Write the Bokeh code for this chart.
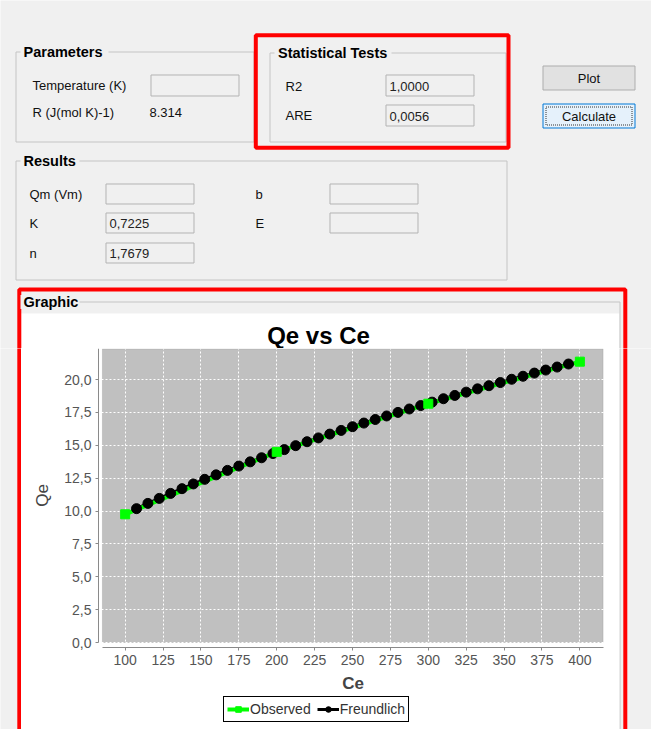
from bokeh.plotting import figure
from bokeh.layouts import column, row
from bokeh.models import (Range1d, FixedTicker, CustomJSTickFormatter, BoxAnnotation,
                          Legend, LegendItem)
from bokeh.core.properties import value
from bokeh.embed import file_html
from bokeh.resources import INLINE

# ---- isotherm data -------------------------------------------------------
ce_observed = [100, 200, 300, 400]
qe_observed = [9.75, 14.50, 18.16, 21.36]

ce_freundlich = [107.5, 115, 122.5, 130, 137.5, 145, 152.5, 160, 167.5, 175,
                 182.5, 190, 197.5, 205, 212.5, 220, 227.5, 235, 242.5, 250,
                 257.5, 265, 272.5, 280, 287.5, 295, 302.5, 310, 317.5, 325,
                 332.5, 340, 347.5, 355, 362.5, 370, 377.5, 385, 392.5]
qe_freundlich = [10.18, 10.58, 10.96, 11.34, 11.70, 12.06, 12.41, 12.75, 13.09, 13.42,
                 13.74, 14.05, 14.37, 14.67, 14.97, 15.27, 15.56, 15.85, 16.13, 16.41,
                 16.69, 16.96, 17.23, 17.50, 17.76, 18.02, 18.28, 18.54, 18.79, 19.04,
                 19.29, 19.53, 19.77, 20.02, 20.25, 20.49, 20.72, 20.95, 21.18]

ce_ticks = [100, 125, 150, 175, 200, 225, 250, 275, 300, 325, 350, 375, 400]
qe_ticks = [0, 2.5, 5, 7.5, 10, 12.5, 15, 17.5, 20]

# ---- form contents -------------------------------------------------------
group_titles = ["Parameters", "Statistical Tests", "Results", "Graphic"]
param_labels = ["Temperature (K)", "R (J(mol K)-1)"]
gas_constant = "8.314"
stat_labels = ["R2", "ARE"]
stat_values = ["1,0000", "0,0056"]
result_labels_left = ["Qm (Vm)", "K", "n"]
result_values_left = ["", "0,7225", "1,7679"]
result_labels_right = ["b", "E"]
result_values_right = ["", ""]
button_labels = ["Plot", "Calculate"]
chart_title = "Qe vs Ce"

BG = "#f0f0f0"
FONT = value("Liberation Sans")
GROUP_LINE = "#c4c4c4"
FIELD_LINE = "#b3b3b3"
RED = "#ff0000"


def canvas(x0, y0, w, h):
    """A blank drawing surface whose data units are window pixels (y downward)."""
    f = figure(width=w, height=h, x_range=Range1d(x0, x0 + w), y_range=Range1d(y0 + h, y0),
               x_axis_type=None, y_axis_type=None, output_backend="svg",
               toolbar_location=None, min_border=0, background_fill_color=BG,
               border_fill_color=BG, outline_line_color=None, frame_align=False)
    return f


def box(f, l, t, r, b, line=None, width=1, fill=None, dash="solid"):
    f.quad(left=[l], right=[r], top=[t], bottom=[b],
           fill_color=fill if fill else "white", fill_alpha=1 if fill else 0,
           line_color=line, line_alpha=1 if line else 0, line_width=width, line_dash=dash)


def graphic_frame(f):
    # group border of the chart panel and the red highlight around it
    box(f, 19.5, 301.5, 619.5, 730.5, line=GROUP_LINE)
    box(f, 18.8, 289, 624.8, 760, line=RED, width=4)


# ---- upper part of the window --------------------------------------------
head = canvas(0, 0, 651, 348)

box(head, 15.5, 51.5, 253.5, 141.5, line=GROUP_LINE)      # Parameters
box(head, 269.5, 52.5, 505.5, 141.5, line=GROUP_LINE)     # Statistical Tests
box(head, 15.5, 160.5, 506.5, 279.5, line=GROUP_LINE)     # Results
box(head, 20, 313, 619, 360, fill="white")                # top of the chart panel
graphic_frame(head)

for l, r, yc in [(20, 108, 51.5), (274, 391, 52.5), (20, 79, 160.5), (20, 79, 301.5)]:
    box(head, l, yc - 7, r, yc + 7, fill=BG)

fields = [(150, 74, 239, 96), (385, 74, 474, 96), (385, 104, 474, 126),
          (105, 183, 194, 204), (105, 212, 194, 233), (105, 242, 194, 263),
          (329, 183, 418, 204), (329, 212, 418, 233)]
for l, t, r, b in fields:
    box(head, l + 0.5, t + 0.5, r - 0.5, b - 0.5, line=FIELD_LINE, fill=BG)

box(head, 542.5, 65.5, 634.5, 89.5, line="#adadad", fill="#e1e1e1")
box(head, 542.5, 103.5, 634.5, 127.5, line="#0078d7", fill="#e5f1fb")
box(head, 545.5, 106.5, 631.5, 124.5, line="#333333", dash="1 1")

box(head, 255.3, 34.7, 508, 147.2, line=RED, width=4)

head.text(x=[23, 277.5, 23, 23], y=[51.5, 52.5, 160.5, 301.5], text=group_titles,
          text_font=FONT, text_font_size="14.5px", text_font_style="bold",
          text_color="#000000", text_baseline="middle", text_align="left")
head.text(x=[32, 32, 149, 285, 285, 29, 29, 29, 255, 255],
          y=[85, 111.5, 111.5, 86, 115, 193.5, 223, 253, 193.5, 223],
          text=param_labels + [gas_constant] + stat_labels + result_labels_left + result_labels_right,
          text_font=FONT, text_font_size="13px", text_color="#111111",
          text_baseline="middle", text_align="left")
head.text(x=[389, 389, 109, 109, 109, 333, 333],
          y=[85.5, 115.5, 194, 223, 253, 194, 223],
          text=stat_values + result_values_left + result_values_right,
          text_font=FONT, text_font_size="13px", text_color="#222222",
          text_baseline="middle", text_align="left")
head.text(x=[588.5, 588.5], y=[77.5, 115.5], text=button_labels,
          text_font=FONT, text_font_size="13px", text_color="#111111",
          text_baseline="middle", text_align="center")
head.text(x=[318], y=[334.5], text=[chart_title], text_font=FONT, text_font_size="24px",
          text_font_style="bold", text_color="#000000", text_baseline="middle",
          text_align="center")

# ---- side and bottom strips around the chart ------------------------------
left = canvas(0, 348, 21, 381)
graphic_frame(left)
right = canvas(619, 348, 32, 381)
graphic_frame(right)
bottom = canvas(0, 729, 651, 3)
graphic_frame(bottom)

# ---- chart -----------------------------------------------------------------
# The frame fills the whole white panel; the axes sit at fixed positions inside it.
X_AXIS_AT = -0.38
Y_AXIS_AT = 82.4
p = figure(width=598, height=381, x_range=Range1d(31.6, 426.15), y_range=Range1d(-6.616, 22.36),
           output_backend="svg", toolbar_location=None, frame_align=False, min_border=0,
           background_fill_color="white", border_fill_color="white", outline_line_color=None)

# data area
p.add_layout(BoxAnnotation(left=85, right=415.3, bottom=0, top=22.33, fill_color="#c0c0c0",
                           fill_alpha=1, line_color="#8a8a8a", line_width=1, level="image"))

for g in (p.xgrid, p.ygrid):
    g.grid_line_color = "white"
    g.grid_line_dash = "2 2"
    g.grid_line_width = 1
p.xgrid.ticker = FixedTicker(ticks=ce_ticks)
p.ygrid.ticker = FixedTicker(ticks=qe_ticks)
p.xgrid.bounds = (0, 22.33)
p.ygrid.bounds = (85, 415.3)

p.xaxis.ticker = FixedTicker(ticks=ce_ticks)
p.yaxis.ticker = FixedTicker(ticks=qe_ticks)
p.yaxis.formatter = CustomJSTickFormatter(code="return tick.toFixed(1).replace('.', ',');")
p.xaxis.fixed_location = X_AXIS_AT
p.yaxis.fixed_location = Y_AXIS_AT
p.xaxis.bounds = (85, 415.6)
p.yaxis.bounds = (0, 22.36)
for ax in (p.xaxis, p.yaxis):
    ax.axis_line_color = "#8a8a8a"
    ax.major_tick_line_color = "#8a8a8a"
    ax.major_tick_in = 0
    ax.major_tick_out = 3
    ax.minor_tick_line_color = None
    ax.major_label_text_font = "Liberation Sans"
    ax.major_label_text_font_size = "14px"
    ax.major_label_text_color = "#555555"
    ax.major_label_standoff = 4
    ax.axis_label_text_font = "Liberation Sans"
    ax.axis_label_text_font_size = "17px"
    ax.axis_label_text_color = "#444444"
    ax.axis_label_standoff = 6
p.xaxis.axis_label = "Ce"
p.xaxis.axis_label_text_font_style = "bold"
p.yaxis.axis_label = "Qe"
p.yaxis.axis_label_text_font_style = "normal"
p.yaxis.axis_label_standoff = 9

# series: lines first, markers on top
fit_line = p.line(ce_freundlich, qe_freundlich, line_color="black", line_width=3)
obs_line = p.line(ce_observed, qe_observed, line_color="#00ff00", line_width=4)
fit_pts = p.scatter(ce_freundlich, qe_freundlich, marker="circle", size=10,
                    fill_color="black", line_color="black")
obs_pts = p.scatter(ce_observed, qe_observed, marker="square", size=9,
                    fill_color="#00ff00", line_color="#00ff00")

legend = Legend(items=[LegendItem(label="Observed", renderers=[obs_line, obs_pts]),
                       LegendItem(label="Freundlich", renderers=[fit_line, fit_pts])],
                orientation="horizontal", location=(202, 7),
                border_line_color="black", border_line_width=1, border_line_alpha=1,
                background_fill_color="white", background_fill_alpha=1,
                padding=3, spacing=6, margin=0, glyph_width=22, glyph_height=14,
                label_standoff=1, label_height=18,
                label_text_font="Liberation Sans", label_text_font_size="14px",
                label_text_color="#333333")
p.add_layout(legend, "center")

layout = column(head, row(left, p, right), bottom)

open("out.html", "w").write(file_html(layout, INLINE))
